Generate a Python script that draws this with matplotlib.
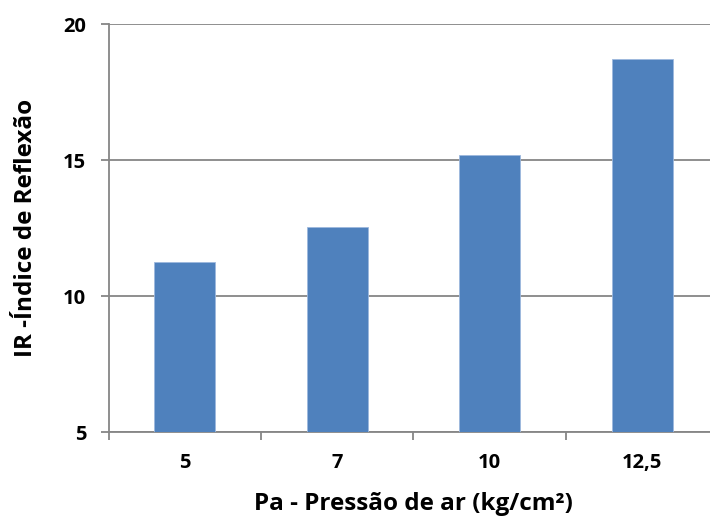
import matplotlib
matplotlib.use("Agg")
import matplotlib.pyplot as plt
import numpy as np

categories = ["5", "7", "10", "12,5"]
values = [11.25, 12.53, 15.18, 18.7]
yticks = [5, 10, 15, 20]

plt.rcParams['font.family'] = ['Open Sans', 'DejaVu Sans']

fig = plt.figure(figsize=(7.1, 5.2), dpi=100)
ax = fig.add_axes([108.5/710, 88/520, 610/710, 408/520])

x = np.arange(len(categories))
ax.bar(x, values, width=0.4, color="#4F81BD", edgecolor="#9DB8DE", linewidth=0.6, zorder=3)
ax.set_ylim(5, 20)
ax.set_xlim(-0.5, len(categories) - 0.5)

ax.set_yticks(yticks)
ax.set_yticklabels([str(t) for t in yticks], fontsize=14.5, fontweight='bold')
ax.yaxis.grid(True, color="#868686", linewidth=1.3, zorder=0)
ax.set_axisbelow(True)

ax.set_xticks(x)
ax.set_xticklabels(categories, fontsize=14.5, fontweight='bold')
ax.set_xticks(np.arange(len(categories) + 1) - 0.5, minor=True)
ax.tick_params(axis='x', which='major', length=0, pad=15)
ax.tick_params(axis='x', which='minor', length=6, color="#868686", width=1.3)
ax.tick_params(axis='y', length=6, color="#868686", width=1.3, pad=10)

for s in ['top', 'right']:
    ax.spines[s].set_visible(False)
for s in ['left', 'bottom']:
    ax.spines[s].set_color("#868686")
    ax.spines[s].set_linewidth(1.3)

ax.set_xlabel("Pa - Pressão de ar (kg/cm²)", fontsize=17.5, fontweight='bold', labelpad=14)
ax.set_ylabel("IR -Índice de Reflexão", fontsize=17.5, fontweight='bold', labelpad=18)

fig.savefig("out.png", dpi=100)
